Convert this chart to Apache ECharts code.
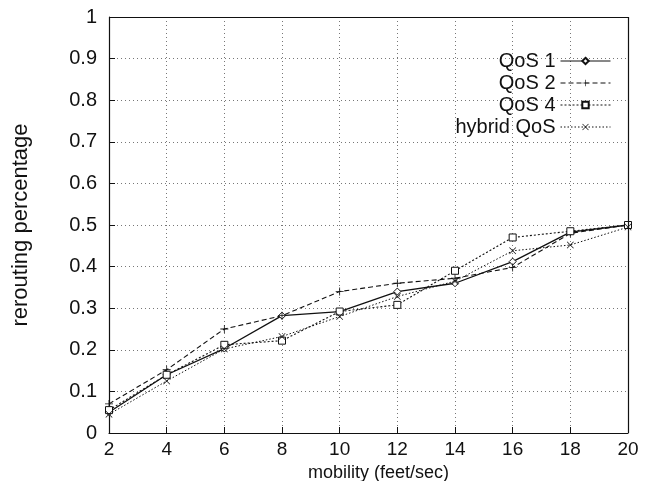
<!DOCTYPE html>
<html><head><meta charset="utf-8">
<script src="https://cdn.jsdelivr.net/npm/echarts@6/dist/echarts.min.js"></script>
<style>html,body{margin:0;padding:0;background:#fff}#c{width:649px;height:481px}</style>
</head><body><div id="c"></div>
<script>
const categories = [2, 4, 6, 8, 10, 12, 14, 16, 18, 20];
const qos1 = [0.050, 0.140, 0.203, 0.282, 0.292, 0.340, 0.360, 0.412, 0.483, 0.500];
const qos2 = [0.070, 0.152, 0.250, 0.282, 0.340, 0.360, 0.372, 0.398, 0.480, 0.500];
const qos4 = [0.055, 0.140, 0.212, 0.222, 0.292, 0.308, 0.390, 0.470, 0.485, 0.500];
const hybrid = [0.045, 0.125, 0.202, 0.232, 0.280, 0.328, 0.365, 0.438, 0.452, 0.495];
const seriesNames = ['QoS 1', 'QoS 2', 'QoS 4', 'hybrid QoS'];
const yTicks = [0, 0.1, 0.2, 0.3, 0.4, 0.5, 0.6, 0.7, 0.8, 0.9, 1];

const chart = echarts.init(document.getElementById('c'));
const font = 'Liberation Sans, Arial, sans-serif';
function mk(name, data, symbol, lineType, width, size) {
  return {
    name, type: 'line', data: categories.map((x, i) => [x, data[i]]),
    symbol, symbolSize: size, showSymbol: true,
    lineStyle: { color: '#111', width, type: lineType },
    itemStyle: { color: '#fff', borderColor: '#111', borderWidth: 1 },
    emphasis: { disabled: true }, animation: false
  };
}
const plusS = 'path://M4.5,0L5.5,0L5.5,4.5L10,4.5L10,5.5L5.5,5.5L5.5,10L4.5,10L4.5,5.5L0,5.5L0,4.5L4.5,4.5Z';
const crossS = 'path://M0,0.7L0.7,0L5,4.3L9.3,0L10,0.7L5.7,5L10,9.3L9.3,10L5,5.7L0.7,10L0,9.3L4.3,5Z';
const series = [
  mk(seriesNames[0], qos1, 'diamond', 'solid', 1.3, 7),
  mk(seriesNames[1], qos2, plusS, [5, 3], 1.1, 8),
  mk(seriesNames[2], qos4, 'rect', [2, 2], 1.1, 7),
  mk(seriesNames[3], hybrid, crossS, [1.5, 2], 1, 7)
];
series[1].itemStyle = { color: '#111' };
series[3].itemStyle = { color: '#111' };
chart.setOption({
  backgroundColor: '#fff',
  animation: false,
  grid: { left: 109, right: 21, top: 17, bottom: 48, containLabel: false, outerBoundsMode: 'none' },
  legend: {
    orient: 'vertical', right: 33, top: 46, itemGap: 2,
    itemWidth: 50, itemHeight: 8, align: 'right',
    lineStyle: { width: 1 },
    textStyle: { fontFamily: font, fontSize: 20, color: '#111', lineHeight: 20 },
    data: seriesNames.map(n => ({ name: n }))
  },
  xAxis: {
    type: 'value', min: 2, max: 20, interval: 2,
    name: 'mobility (feet/sec)', nameLocation: 'middle', nameGap: 23,
    nameTextStyle: { fontFamily: font, fontSize: 18, color: '#111', padding: [0, 0, 0, 20] },
    axisLine: { lineStyle: { color: '#111', width: 1.2 } },
    axisTick: { inside: true, length: 6, lineStyle: { color: '#111' } },
    axisLabel: { fontFamily: font, fontSize: 19, color: '#111', margin: 7 },
    splitLine: { show: true, lineStyle: { color: '#777', type: [1, 3], width: 1 } }
  },
  yAxis: {
    type: 'value', min: 0, max: 1, interval: 0.1,
    name: 'rerouting percentage', nameLocation: 'middle', nameGap: 77, nameRotate: 90,
    nameTextStyle: { fontFamily: font, fontSize: 22, color: '#111' },
    axisLine: { show: true, lineStyle: { color: '#111', width: 1.2 } },
    axisTick: { show: true, inside: true, length: 6, lineStyle: { color: '#111' } },
    axisLabel: { fontFamily: font, fontSize: 20, color: '#111', margin: 12,
      formatter: v => { const t = yTicks.find(k => Math.abs(k - v) < 1e-9); return t === undefined ? '' : String(t); } },
    splitLine: { show: true, lineStyle: { color: '#777', type: [1, 3], width: 1 } }
  },
  series: series.concat([{
    type: 'line', data: [], silent: true,
    markLine: { silent: true, symbol: 'none', animation: false,
      lineStyle: { color: '#111', type: 'solid', width: 1.2 },
      label: { show: false },
      data: [{ xAxis: 20 }, { yAxis: 1 }] }
  }])
});
</script></body></html>
